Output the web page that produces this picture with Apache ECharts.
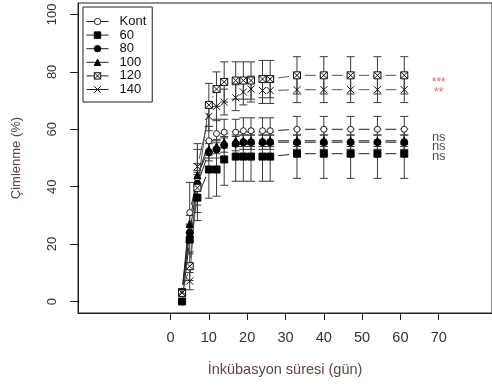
<!DOCTYPE html>
<html>
<head>
<meta charset="utf-8">
<script src="https://cdn.jsdelivr.net/npm/echarts@6/dist/echarts.min.js"></script>
<style>
  html, body { margin: 0; padding: 0; background: #fff; }
  #chart { width: 492px; height: 385px; }
</style>
</head>
<body>
<div id="chart"></div>
<script>
// inkubasyon gunleri
const days = [3, 5, 7, 10, 12, 14, 17, 19, 21, 24, 26, 33, 40, 47, 54, 61];

// ortalama cimlenme (%)
const kont = [3, 31, 43, 56, 58.5, 59, 59, 59.5, 59.5, 59.5, 59.5, 60, 60, 60, 60, 60];
const s60 = [0, 21.6, 36.2, 46, 46, 49.5, 50.5, 50.5, 50.5, 50.5, 50.5, 51.5, 51.5, 51.5, 51.5, 51.5];
const s80 = [3, 24, 41, 52, 53, 54.5, 55, 55.5, 55.5, 55.5, 55.5, 55.5, 55.5, 55.5, 55.5, 55.5];
const s100 = [3.5, 27, 44, 53, 54, 55.5, 56, 56, 56, 56, 56, 56, 56, 56, 56, 56];
const s120 = [3, 12.3, 39.6, 68.5, 74, 76.5, 77, 77, 77, 77.5, 77.5, 78.8, 78.8, 78.8, 78.8, 78.8];
const s140 = [3.5, 7.1, 47, 64.5, 68, 69.5, 71, 73, 74, 73.5, 73.5, 73.8, 73.8, 73.8, 73.8, 73.8];

// hata cubuklari (+/-)
const errKont = [1, 10.5, 12, 5, 5, 4.5, 4.5, 4.5, 4.5, 4.5, 4.5, 4.5, 4.5, 4.5, 4.5, 4.5];
const err60 = [0, 5, 8, 10, 9.3, 9, 8.6, 8.6, 8.6, 8.6, 8.6, 8.6, 8.6, 8.6, 8.6, 8.6];
const err80 = [1, 3, 4, 3, 3, 2.5, 2.5, 2.5, 2.5, 2.5, 2.5, 2.5, 2.5, 2.5, 2.5, 2.5];
const err100 = [1, 3, 4, 3, 2.5, 2, 2, 2, 2, 2, 2, 2, 2, 2, 2, 2];
const err120 = [1, 5, 6, 7.5, 6, 7, 6.5, 6.5, 6.5, 6.5, 6.5, 6.5, 6.5, 6.5, 6.5, 6.5];
const err140 = [1, 3, 6, 5, 5, 4.5, 4.5, 4.5, 4.5, 4.5, 4.5, 4.5, 4.5, 4.5, 4.5, 4.5];

const names = ['Kont', '60', '80', '100', '120', '140'];

// anlamlilik isaretleri
const annoX = [70, 70, 70, 70, 70];
const annoY = [76.3, 72.8, 57.2, 54.0, 50.6];
const annoText = ['***', '**', 'ns', 'ns', 'ns'];

const xTicks = [0, 10, 20, 30, 40, 50, 60, 70];
const yTicks = [0, 20, 40, 60, 80, 100];

const FONT = '"Liberation Sans", Arial, sans-serif';
const GAP = 8;

const boxSym = 'path://M0,0L10,0L10,10L0,10ZM0,0L10,10M10,0L0,10';
const crossSym = 'path://M0,0L10,10M10,0L0,10';

const groups = [
  { name: 'Kont', v: kont, e: errKont, symbol: 'circle', size: 6, color: '#222', fill: '#fff', line: '#222' },
  { name: '60', v: s60, e: err60, symbol: 'rect', size: 7, color: '#000', fill: '#000', line: '#222' },
  { name: '80', v: s80, e: err80, symbol: 'circle', size: 7, color: '#000', fill: '#000', line: '#222' },
  { name: '100', v: s100, e: err100, symbol: 'triangle', size: 7, color: '#000', fill: '#000', line: '#222' },
  { name: '120', v: s120, e: err120, symbol: boxSym, size: 7, color: '#111', fill: '#fff', line: '#555' },
  { name: '140', v: s140, e: err140, symbol: crossSym, size: 7, color: '#111', fill: 'none', line: '#555' }
];

const series = [];

groups.forEach(g => {
  // type="b" gibi: noktalar arasinda bosluklu cizgiler
  const segs = [];
  for (let i = 0; i < days.length - 1; i++) {
    segs.push([days[i], g.v[i], days[i + 1], g.v[i + 1]]);
  }
  series.push({
    name: g.name + '-seg',
    type: 'custom',
    z: 2,
    silent: true,
    encode: { x: [0, 2], y: [1, 3] },
    data: segs,
    renderItem(params, api) {
      const p1 = api.coord([api.value(0), api.value(1)]);
      const p2 = api.coord([api.value(2), api.value(3)]);
      const dx = p2[0] - p1[0], dy = p2[1] - p1[1];
      const d = Math.sqrt(dx * dx + dy * dy);
      if (d <= 2 * GAP) return null;
      const ux = dx / d, uy = dy / d;
      return {
        type: 'line',
        shape: { x1: p1[0] + ux * GAP, y1: p1[1] + uy * GAP, x2: p2[0] - ux * GAP, y2: p2[1] - uy * GAP },
        style: { stroke: g.line, lineWidth: 1 }
      };
    }
  });

  // hata cubuklari
  series.push({
    name: g.name + '-err',
    type: 'custom',
    z: 3,
    silent: true,
    encode: { x: 0, y: [1, 2] },
    data: days.map((d, i) => [d, g.v[i] - g.e[i], g.v[i] + g.e[i]]),
    renderItem(params, api) {
      const lo = api.coord([api.value(0), api.value(1)]);
      const hi = api.coord([api.value(0), api.value(2)]);
      const w = 4;
      const st = { stroke: '#3a3a3a', lineWidth: 1 };
      return {
        type: 'group',
        children: [
          { type: 'line', shape: { x1: lo[0], y1: lo[1], x2: hi[0], y2: hi[1] }, style: st },
          { type: 'line', shape: { x1: lo[0] - w, y1: lo[1], x2: lo[0] + w, y2: lo[1] }, style: st },
          { type: 'line', shape: { x1: hi[0] - w, y1: hi[1], x2: hi[0] + w, y2: hi[1] }, style: st }
        ]
      };
    }
  });

  // noktalar
  series.push({
    name: g.name,
    type: 'line',
    z: 5,
    data: days.map((d, i) => [d, g.v[i]]),
    symbol: g.symbol,
    symbolSize: g.size,
    showAllSymbol: true,
    symbolKeepAspect: true,
    lineStyle: { opacity: 0 },
    itemStyle: { color: g.fill, borderColor: g.color, borderWidth: 1, opacity: 1 },
    emphasis: { disabled: true }
  });
});

// p-degerleri etiketleri
series.push({
  name: 'anno',
  type: 'scatter',
  z: 6,
  symbolSize: 0,
  silent: true,
  itemStyle: { color: 'transparent' },
  label: {
    show: true, position: 'inside', formatter: p => p.value[2],
    fontFamily: FONT, textBorderWidth: 0
  },
  data: annoX.map((x, i) => ({
    value: [x, annoY[i], annoText[i]],
    label: annoText[i] === 'ns'
      ? { color: '#1a1a1a', fontSize: 13, fontFamily: FONT, textBorderWidth: 0 }
      : { color: '#d9443f', fontSize: 12, fontFamily: FONT, textBorderWidth: 0 }
  }))
});

const legendData = groups.map(g => ({
  name: g.name,
  itemStyle: { color: g.fill, borderColor: g.color, borderWidth: 1 }
}));

const chart = echarts.init(document.getElementById('chart'), null, { renderer: 'canvas' });
chart.setOption({
  animation: false,
  backgroundColor: '#fff',
  textStyle: { fontFamily: FONT },
  grid: { left: 78, top: 3, right: -2, height: 310, show: true, borderColor: '#222', borderWidth: 1 },
  legend: {
    data: legendData,
    orient: 'vertical',
    left: 83,
    top: 7,
    padding: [8, 6, 6, 3],
    borderColor: '#222',
    borderWidth: 1,
    borderRadius: 0,
    itemWidth: 22,
    itemHeight: 8,
    itemGap: 0.6,
    selectedMode: false,
    lineStyle: { opacity: 1, width: 1, color: '#222' },
    textStyle: { fontFamily: FONT, fontSize: 13, color: '#111', lineHeight: 12, padding: [0, 0, 0, 6] }
  },
  xAxis: {
    type: 'value',
    min: -24.16,
    max: 83.9,
    name: 'İnkübasyon süresi (gün)',
    nameLocation: 'middle',
    nameGap: 49,
    nameTextStyle: { fontFamily: FONT, fontSize: 14.5, color: '#5e463c' },
    splitLine: { show: false },
    axisLine: { show: true, onZero: false, lineStyle: { color: '#222' } },
    axisTick: { show: true, length: 7, inside: false, customValues: xTicks, lineStyle: { color: '#222' } },
    axisLabel: { customValues: xTicks, margin: 17, fontFamily: FONT, fontSize: 14.5, color: '#333' }
  },
  yAxis: {
    type: 'value',
    min: -4,
    max: 104,
    name: 'Çimlenme (%)',
    nameLocation: 'middle',
    nameGap: 55,
    nameTextStyle: { fontFamily: FONT, fontSize: 13, color: '#5e463c' },
    splitLine: { show: false },
    axisLine: { show: true, onZero: false, lineStyle: { color: '#222' } },
    axisTick: { show: true, length: 8, inside: false, customValues: yTicks, lineStyle: { color: '#222' } },
    axisLabel: { customValues: yTicks, rotate: 90, margin: 19, fontFamily: FONT, fontSize: 13, color: '#333' }
  },
  series
});
</script>
</body>
</html>
